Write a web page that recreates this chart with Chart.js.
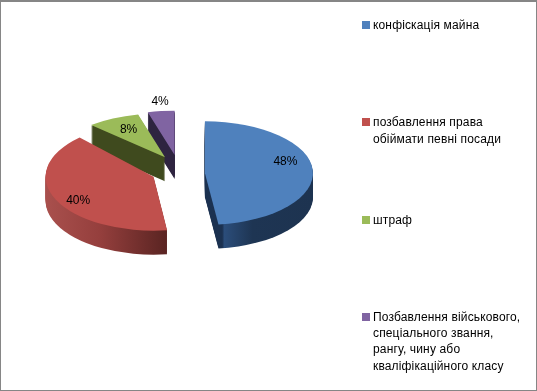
<!DOCTYPE html>
<html>
<head>
<meta charset="utf-8">
<script src="https://cdn.jsdelivr.net/npm/chart.js@4"></script>
<style>
html, body { margin: 0; padding: 0; background: #fff; overflow: hidden; }
#wrap { position: relative; width: 537px; height: 391px; }
#frame { position: absolute; left: 0; top: 0; width: 535px; height: 388px; border-top: 2px solid #868686; border-left: 1px solid #868686; border-right: 1px solid #868686; border-bottom: 1px solid #868686; pointer-events: none; }
#grafico { position: absolute; left: 0; top: 0; }
.item { position: absolute; left: 373px; font: 12px "Liberation Sans", Arial, sans-serif; letter-spacing: 0.15px; line-height: 16.2px; white-space: pre; color: #000; }
.item i { position: absolute; left: -11px; top: 4px; width: 8px; height: 8px; }
</style>
</head>
<body>
<div id="wrap">
    <canvas id="grafico" width="537" height="391"></canvas>
    <div id="legenda"></div>
    <div id="frame"></div>
</div>
<script>
const categorias = [
    'конфіскація майна',
    'позбавлення права\nобіймати певні посади',
    'штраф',
    'Позбавлення військового,\nспеціального звання,\nрангу, чину або\nкваліфікаційного класу'
];
const valores = [48, 40, 8, 4];
const cores = ['#4f81bd', '#c0504d', '#9bbb59', '#8064a2'];

// estilo de cada fatia, fora dos dados: inclinacao e altura na tela
const inclinacao = [0.48, 0.50, 0.41, 0.41];
const centroY = [174, 171, 167, 166];
const profundidade = 24;
const explosao = 27;
const paredes = [
    [[0, '#1b3150'], [0.58, '#1b3150'], [0.59, '#2b4d7a'], [0.72, '#1e3553'], [1, '#1d3350']],
    [[0, '#a9504d'], [0.25, '#953f3d'], [0.55, '#5c2523'], [1, '#5c2523']],
    [[0, '#3f4a1e'], [1, '#3f4a1e']],
    [[0, '#2e2440'], [1, '#2e2440']]
];
const ordem = [3, 2, 1, 0];
// posicao dos rotulos: fracao do raio e ajuste fino
const rotuloRaio = [0.7, 0.7, 0.7, 1.15];
const rotuloAjuste = [[5, -9], [-7, 8], [0, 0], [1, -3]];

function desenharFatia(ctx, arco, i, d) {
    const meio = (arco.startAngle + arco.endAngle) / 2;
    ctx.save();
    ctx.translate(arco.x, centroY[i] + d);
    ctx.scale(1, inclinacao[i]);
    ctx.translate(Math.cos(meio) * explosao - arco.x, Math.sin(meio) * explosao - arco.y);
    arco.draw(ctx);
    ctx.restore();
}

const pizza3d = {
    id: 'pizza3d',
    beforeDatasetDraw(chart, args) {
        const ctx = chart.ctx;
        const arcos = args.meta.data;
        ordem.forEach(i => {
            const arco = arcos[i];
            const r = arco.outerRadius;
            const original = arco.options;
            // o gradiente fica dentro da transformacao, entao acompanha a fatia
            const grad = ctx.createLinearGradient(arco.x - r, 0, arco.x + r, 0);
            paredes[i].forEach(p => grad.addColorStop(p[0], p[1]));
            arco.options = Object.assign({}, original, { backgroundColor: grad, borderColor: grad });
            for (let d = profundidade; d >= 1; d--) {
                desenharFatia(ctx, arco, i, d);
            }
            arco.options = original;
            desenharFatia(ctx, arco, i, 0);
        });
        // as fatias ja foram desenhadas aqui
        return false;
    },
    afterDatasetsDraw(chart) {
        const ctx = chart.ctx;
        const arcos = chart.getDatasetMeta(0).data;
        ctx.save();
        ctx.font = '12px "Liberation Sans", Arial, sans-serif';
        ctx.fillStyle = '#000';
        ctx.textAlign = 'center';
        ctx.textBaseline = 'middle';
        arcos.forEach((arco, i) => {
            const meio = (arco.startAngle + arco.endAngle) / 2;
            const dist = arco.outerRadius * rotuloRaio[i] + explosao;
            const x = arco.x + Math.cos(meio) * dist + rotuloAjuste[i][0];
            const y = centroY[i] + Math.sin(meio) * dist * inclinacao[i] + rotuloAjuste[i][1];
            ctx.fillText(valores[i] + '%', x, y);
        });
        ctx.restore();
    }
};

new Chart(document.getElementById('grafico').getContext('2d'), {
    type: 'pie',
    data: {
        labels: categorias,
        datasets: [{
            data: valores,
            backgroundColor: cores,
            borderWidth: 0,
            radius: 108,
            clip: false
        }]
    },
    options: {
        responsive: false,
        animation: false,
        layout: { padding: { right: 181 } },
        events: [],
        plugins: {
            legend: { display: false },
            tooltip: { enabled: false }
        }
    },
    plugins: [pizza3d]
});

const legenda = document.getElementById('legenda');
categorias.forEach((nome, i) => {
    const div = document.createElement('div');
    div.className = 'item';
    div.style.top = (17 + 97.3 * i) + 'px';
    div.textContent = nome;
    const quadrado = document.createElement('i');
    quadrado.style.background = cores[i];
    div.appendChild(quadrado);
    legenda.appendChild(div);
});
</script>
</body>
</html>
